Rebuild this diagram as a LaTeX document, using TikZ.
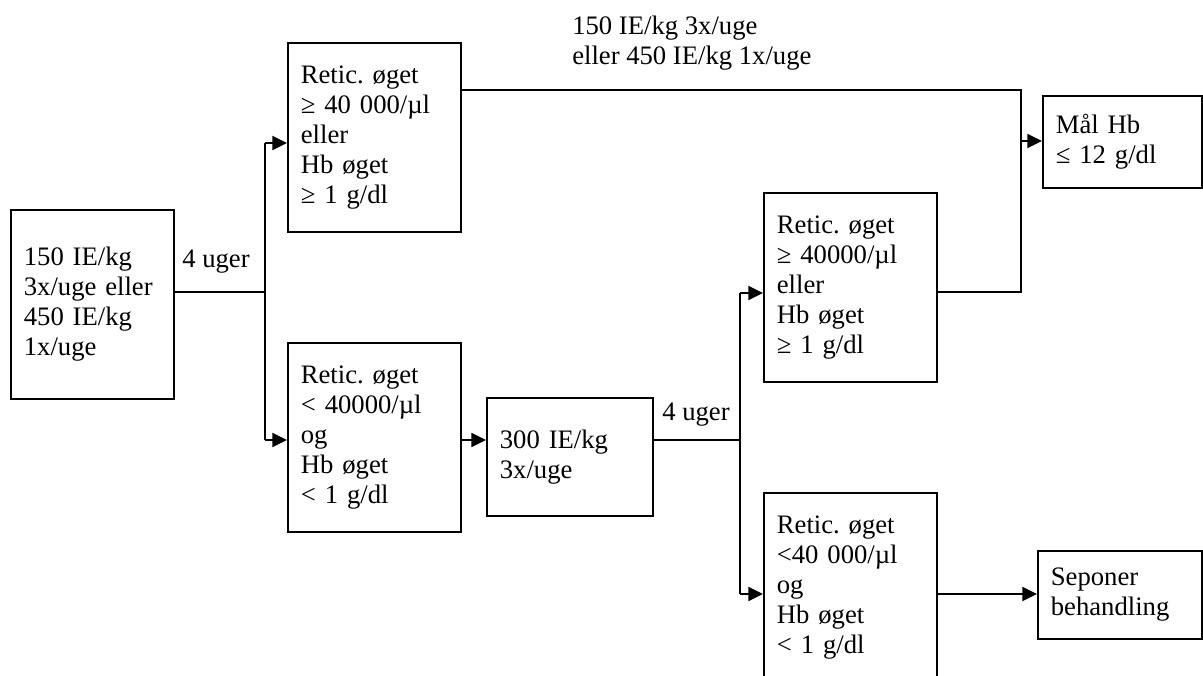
\documentclass[tikz,border=0pt]{standalone}
\usepackage{fontspec}
\setmainfont{Liberation Serif}
\usetikzlibrary{arrows.meta}
\begin{document}
\frenchspacing
\begin{tikzpicture}[x=0.75pt,y=-0.75pt,
  every node/.style={font=\fontsize{20}{22.5}\selectfont},
  box/.style={draw, line width=1.3pt, rectangle, anchor=north west, align=left, inner xsep=9.75pt, inner ysep=0pt},
  tall/.style={minimum height=141.75pt},
  wide/.style={minimum width=129.75pt, text width=110.25pt},
  conn/.style={line width=1.5pt},
  arr/.style={line width=1.5pt, -{Triangle[length=11pt,width=10.5pt]}},
  lbl/.style={inner sep=0pt, anchor=base west, align=left}
]
\useasboundingbox (0,0) rectangle (1203,675);
\clip (0,0) rectangle (1203,675);

\node[box, tall, minimum width=122.25pt, text width=102.75pt] (A) at (10,209) {150 IE/kg\\3x/uge eller\\450 IE/kg\\1x/uge};
\node[box, tall, wide] (B) at (287,42) {Retic. øget\\≥ 40 000/µl\\eller\\Hb øget\\≥ 1 g/dl};
\node[box, tall, wide] (C) at (287,342) {Retic. øget\\< 40000/µl\\og\\Hb øget\\< 1 g/dl};
\node[box, minimum width=124.5pt, minimum height=88.5pt, text width=105pt] (D) at (486,397) {300 IE/kg\\3x/uge};
\node[box, tall, wide] (E) at (763,192) {Retic. øget\\≥ 40000/µl\\eller\\Hb øget\\≥ 1 g/dl};
\node[box, tall, wide] (F) at (763,492) {Retic. øget\\<40 000/µl\\og\\Hb øget\\< 1 g/dl};
\node[box, minimum width=119.25pt, minimum height=69pt, text width=99.75pt] (G) at (1042,95) {Mål Hb\\≤ 12 g/dl};
\node[box, minimum width=123pt, minimum height=66pt, text width=103.5pt] (H) at (1037,550) {Seponer\\behandling};

\coordinate (j1) at (265,292);
\coordinate (j1t) at (265,143);
\coordinate (j1b) at (265,440);
\coordinate (j2) at (740,440);
\coordinate (j2t) at (740,293);
\coordinate (j2b) at (740,594);
\coordinate (r1t) at (1021,90);
\coordinate (r1b) at (1021,292);
\coordinate (r1m) at (1021,141);

\draw[conn] (A.east |- j1) -- (j1);
\draw[conn] (j1t) -- (j1b);
\draw[arr] (j1t) -- (B.west |- j1t);
\draw[arr] (j1b) -- (C.west |- j1b);
\draw[arr] (C.east |- j1b) -- (D.west |- j1b);
\draw[conn] (D.east |- j2) -- (j2);
\draw[conn] (j2t) -- (j2b);
\draw[arr] (j2t) -- (E.west |- j2t);
\draw[arr] (j2b) -- (F.west |- j2b);
\draw[conn] (B.east |- r1t) -- (r1t) -- (r1b) -- (E.east |- r1b);
\draw[arr] (r1m) -- (G.west |- r1m);
\draw[arr] (F.east |- j2b) -- (H.west |- j2b);

\node[lbl] (L1) at (182,267) {4 uger};
\node[lbl] (L2) at (662,420) {4 uger};
\node[lbl] (L3) at (572,64) {150 IE/kg 3x/uge\\eller 450 IE/kg 1x/uge};
\end{tikzpicture}
\end{document}
